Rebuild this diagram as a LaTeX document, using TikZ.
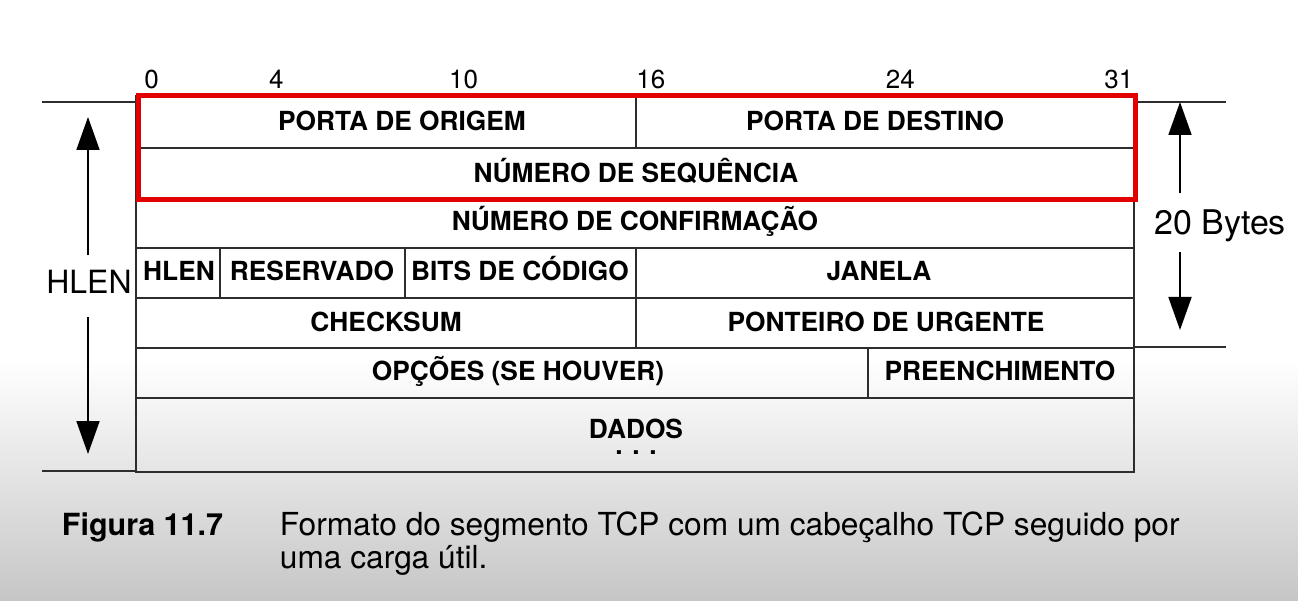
\documentclass[tikz,border=0pt]{standalone}
\usepackage{fontspec}
\setmainfont{TeX Gyre Heros}
\usepackage{xcolor}
\usetikzlibrary{arrows.meta, positioning}

\definecolor{linegray}{RGB}{45,45,45}
\definecolor{boxred}{RGB}{226,0,0}
\definecolor{bggray}{RGB}{198,198,198}

\begin{document}
\begin{tikzpicture}[
    x=1pt, y=-1pt,
    >={Triangle[length=33pt, width=23pt]},
    field/.style={font=\fontsize{26.3}{30}\selectfont\bfseries, inner sep=0pt, text height=18.7pt, text depth=0pt},
    bitnum/.style={font=\fontsize{26}{30}\selectfont, inner sep=0pt, text height=18.4pt, text depth=0pt},
    dim label/.style={font=\fontsize{32}{36}\selectfont, inner sep=0pt, text height=23pt, text depth=0pt},
    dim arrow/.style={->, draw=black},
    caption/.style={font=\fontsize{31.7}{34}\selectfont, inner sep=0pt, anchor=base west},
    line width=1.8pt, draw=linegray
]

% background
\useasboundingbox (0,0) rectangle (1298,601);
\fill[white] (0,0) rectangle (1298,360);
\shade[top color=white, bottom color=bggray] (0,360) rectangle (1298,601);

% table
\draw (136,96) rectangle (1134,472);
\foreach \y in {148,198,248,298,348,398}
    \draw (136,\y) -- (1134,\y);
\draw (636,96) -- (636,148);
\draw (220,248) -- (220,298);
\draw (405,248) -- (405,298);
\draw (636,248) -- (636,348);
\draw (868,348) -- (868,398);

% marker lines outside
\draw (42,102) -- (136,102);
\draw (42,471) -- (136,471);
\draw (1134,102) -- (1226,102);
\draw (1134,347) -- (1226,347);

% bit numbers
\foreach \b in {0,4,10,16,24,31}
    \node[bitnum] (bit\b) at ({136+31.2*(\b+0.5)},79) {\b};

% fields
\node[field] (src) at (402,121) {PORTA DE ORIGEM};
\node[field] (dst) at (875,121) {PORTA DE DESTINO};
\node[field] (seq) at (636,173) {NÚMERO DE SEQUÊNCIA};
\node[field] (ack) at (635,221) {NÚMERO DE CONFIRMAÇÃO};
\node[field] (hl) at (179,271) {HLEN};
\node[field] (res) at (312,271) {RESERVADO};
\node[field] (code) at (520,271) {BITS DE CÓDIGO};
\node[field] (win) at (879,271) {JANELA};
\node[field] (sum) at (386,322) {CHECKSUM};
\node[field] (urg) at (886,322) {PONTEIRO DE URGENTE};
\node[field] (opt) at (518,371) {OPÇÕES (SE HOUVER)};
\node[field] (pad) at (1000,371) {PREENCHIMENTO};
\node[field] (data) at (636,429) {DADOS};
\node[field, text height=3pt] (dots) at (636,453) {. . .};

% red highlight
\draw[boxred, line width=5pt] (138.5,96) rectangle (1135.5,200);

% dimension arrows
\node[dim label] (hlen) at (89,282) {HLEN};
\coordinate (hlen top) at (88,117);
\coordinate (hlen bot) at (88,454);
\draw[dim arrow, shorten <=15pt] (hlen.north -| hlen top) -- (hlen top);
\draw[dim arrow, shorten <=23pt] (hlen.south -| hlen bot) -- (hlen bot);

\node[dim label, font=\fontsize{34}{38}\selectfont] (bytes) at (1220,223) {20 Bytes};
\coordinate (bytes top) at (1180,102);
\coordinate (bytes bot) at (1180,330);
\draw[dim arrow, shorten <=18pt] (bytes.north -| bytes top) -- (bytes top);
\draw[dim arrow, shorten <=17pt] (bytes.south -| bytes bot) -- (bytes bot);

% caption
\node[caption, font=\fontsize{30.5}{34}\selectfont\bfseries] (figno) at (61,535) {Figura 11.7};
\node[caption] (cap1) at (279,535) {Formato do segmento TCP com um cabeçalho TCP seguido por};
\node[caption] (cap2) at (279,568) {uma carga útil.};

\end{tikzpicture}
\end{document}
